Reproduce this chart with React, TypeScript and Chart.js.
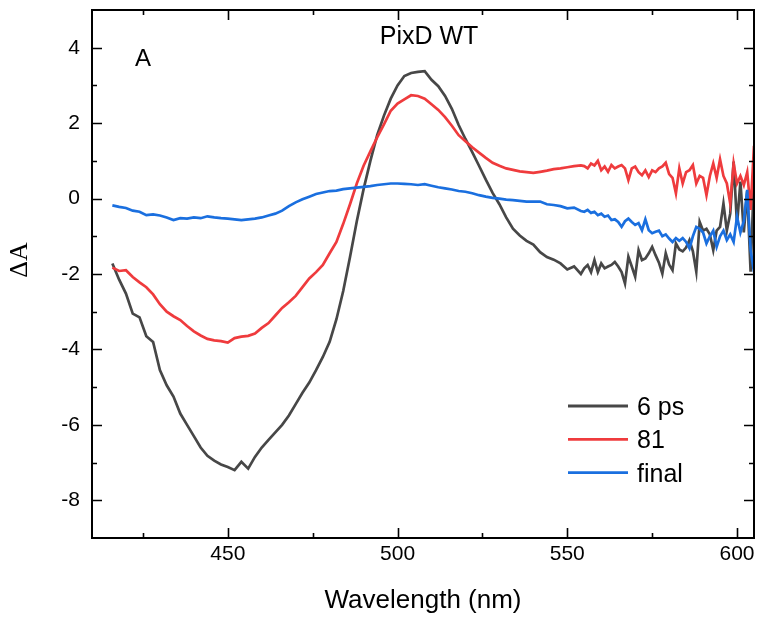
import React, { useEffect, useRef } from "react";
import { Chart, registerables } from "chart.js";

Chart.register(...registerables);

// Wavelength grid (nm)
const wavelengths = [
  416, 418, 420, 422, 424, 426, 428, 430, 432, 434, 436, 438, 440, 442, 444, 446, 448, 450,
  452, 454, 456, 458, 460, 462, 464, 466, 468, 470, 472, 474, 476, 478, 480, 482, 484, 486,
  488, 490, 492, 494, 496, 498, 500, 502, 504, 506, 508, 510, 512, 514, 516, 518, 520, 522,
  524, 526, 528, 530, 532, 534, 536, 538, 540, 542, 544, 546, 548, 550, 552, 554,
  555, 556, 557, 558, 559, 560, 561, 562, 563, 564, 565, 566, 567, 568, 569, 570, 571, 572,
  573, 574, 575, 576, 577, 578, 579, 580, 581, 582, 583, 584, 585, 586, 587, 588, 589, 590,
  591, 592, 593, 594, 595, 596, 597, 598, 599, 600, 601, 602, 603, 604, 605,
];

// 6 ps spectrum
const spec6ps = [
  -1.72, -2.15, -2.52, -3.05, -3.15, -3.65, -3.8, -4.55, -4.95, -5.25, -5.7, -6.0, -6.3, -6.6, -6.82, -6.95, -7.05, -7.12,
  -7.2, -6.98, -7.16, -6.85, -6.6, -6.4, -6.2, -6.0, -5.75, -5.45, -5.15, -4.88, -4.55, -4.2, -3.8, -3.2, -2.45, -1.55,
  -0.6, 0.25, 1.0, 1.68, 2.2, 2.65, 3.0, 3.25, 3.33, 3.36, 3.38, 3.15, 2.98, 2.72, 2.38, 1.95, 1.58, 1.23,
  0.87, 0.5, 0.15, -0.15, -0.5, -0.8, -0.98, -1.12, -1.22, -1.42, -1.55, -1.62, -1.72, -1.88, -1.8, -2.0,
  -1.85, -1.76, -1.95, -1.63, -1.95, -1.72, -1.85, -1.8, -1.76, -1.68, -1.8, -1.95, -2.25, -1.54, -1.8, -2.07, -1.37, -1.63,
  -1.59, -1.45, -1.28, -1.5, -1.7, -1.99, -1.45, -1.75, -1.9, -1.19, -1.35, -1.4, -1.3, -1.1, -1.4, -1.94, -0.62, -0.85,
  -0.8, -0.95, -1.37, -0.85, -0.75, -0.13, -0.85, -0.4, 0.98, -0.7, 0.45, -0.9, 0.2, -1.94, 0.6,
];

// 81 spectrum
const spec81 = [
  -1.83, -1.92, -1.9, -2.08, -2.22, -2.35, -2.54, -2.8, -3.0, -3.12, -3.22, -3.38, -3.52, -3.63, -3.72, -3.76, -3.78, -3.82,
  -3.7, -3.66, -3.64, -3.58, -3.43, -3.3, -3.1, -2.9, -2.75, -2.58, -2.35, -2.12, -1.95, -1.76, -1.45, -1.15, -0.67, -0.15,
  0.4, 0.87, 1.25, 1.62, 1.97, 2.33, 2.52, 2.63, 2.74, 2.72, 2.65, 2.5, 2.35, 2.16, 1.93, 1.68, 1.52, 1.36,
  1.22, 1.08, 0.95, 0.87, 0.8, 0.76, 0.72, 0.7, 0.68, 0.71, 0.74, 0.78, 0.8, 0.83, 0.86, 0.88,
  0.86, 0.8, 0.93, 0.88, 1.0, 0.75, 0.85, 0.71, 0.89, 0.8, 0.85, 0.89, 0.8, 0.49, 0.8, 0.85, 0.7, 0.62,
  0.75, 0.57, 0.75, 0.7, 0.8, 0.85, 0.95, 0.65, 0.55, 0.14, 0.8, 0.4, 0.7, 0.75, 0.89, 0.4, 0.6, 0.55,
  0.09, 0.6, 0.93, 0.55, 1.04, 0.6, 0.4, -0.13, 0.93, 0.4, 0.6, 0.36, 0.7, -0.3, 1.4,
];

// final spectrum
const specFinal = [
  -0.18, -0.22, -0.25, -0.32, -0.35, -0.44, -0.42, -0.45, -0.5, -0.57, -0.52, -0.53, -0.5, -0.52, -0.47, -0.5, -0.52, -0.53,
  -0.55, -0.57, -0.55, -0.53, -0.5, -0.45, -0.4, -0.32, -0.2, -0.1, -0.02, 0.05, 0.12, 0.16, 0.2, 0.21, 0.25, 0.27,
  0.29, 0.31, 0.33, 0.36, 0.38, 0.4, 0.4, 0.39, 0.38, 0.36, 0.38, 0.34, 0.3, 0.27, 0.24, 0.2, 0.18, 0.14,
  0.09, 0.05, 0.02, 0.0, -0.03, -0.04, -0.06, -0.08, -0.08, -0.08, -0.15, -0.17, -0.2, -0.26, -0.24, -0.33,
  -0.35, -0.3, -0.38, -0.35, -0.44, -0.4, -0.48, -0.45, -0.57, -0.55, -0.62, -0.75, -0.6, -0.53, -0.62, -0.7, -0.65, -0.84,
  -0.55, -0.84, -0.92, -0.88, -0.85, -1.0, -0.95, -1.06, -1.15, -1.05, -1.12, -1.05, -1.15, -1.32, -1.0, -0.75, -0.8, -0.9,
  -1.19, -1.0, -0.85, -1.28, -1.0, -0.85, -1.1, -0.95, -1.15, -0.48, -0.9, -0.6, 0.23, -1.37, -1.95,
];

const seriesLabels = ["6 ps", "81", "final"];
const seriesColors = ["#474747", "#ef3b3d", "#1a6fdf"];

const xMajorTicks = [450, 500, 550, 600];
const xMinorTicks = [425, 475, 525, 575];
const yMajorTicks = [-8, -6, -4, -2, 0, 2, 4];
const yMinorTicks = [-7, -5, -3, -1, 1, 3];

const X_MIN = 410;
const X_MAX = 605;
const Y_MIN = -9;
const Y_MAX = 5;

const panelLabel = "A";
const chartTitle = "PixD WT";
const xTitle = "Wavelength (nm)";
const yTitle = "ΔA";

const SANS = "'Liberation Sans', Arial, sans-serif";
const SERIF = "'Liberation Serif', 'Times New Roman', serif";

const decorPlugin = {
  id: "decor",
  afterDatasetsDraw(chart: any) {
    const { ctx, chartArea: a, scales } = chart;
    const x = scales.x;
    const y = scales.y;
    ctx.save();
    // frame
    ctx.strokeStyle = "#000";
    ctx.lineWidth = 2;
    ctx.strokeRect(a.left, a.top, a.right - a.left, a.bottom - a.top);

    // inward ticks
    ctx.lineWidth = 1.6;
    const drawX = (vals: number[], len: number) => {
      vals.forEach((v) => {
        const px = Math.round(x.getPixelForValue(v)) + 0.5;
        ctx.beginPath();
        ctx.moveTo(px, a.bottom);
        ctx.lineTo(px, a.bottom - len);
        ctx.moveTo(px, a.top);
        ctx.lineTo(px, a.top + len);
        ctx.stroke();
      });
    };
    const drawY = (vals: number[], len: number) => {
      vals.forEach((v) => {
        const py = Math.round(y.getPixelForValue(v)) + 0.5;
        ctx.beginPath();
        ctx.moveTo(a.left, py);
        ctx.lineTo(a.left + len, py);
        ctx.moveTo(a.right, py);
        ctx.lineTo(a.right - len, py);
        ctx.stroke();
      });
    };
    drawX(xMajorTicks, 10);
    drawX(xMinorTicks, 5);
    drawY(yMajorTicks, 10);
    drawY(yMinorTicks, 5);

    // texts
    ctx.fillStyle = "#000";
    ctx.textBaseline = "alphabetic";
    ctx.textAlign = "left";
    ctx.font = `24px ${SANS}`;
    ctx.fillText(panelLabel, a.left + 43, a.top + 56);

    ctx.textAlign = "center";
    ctx.font = `25px ${SANS}`;
    ctx.fillText(chartTitle, a.left + 337, a.top + 34);

    // x title
    ctx.font = `26px ${SANS}`;
    ctx.fillText(xTitle, (a.left + a.right) / 2, a.bottom + 70);

    // y title (rotated)
    ctx.save();
    ctx.translate(27, 260);
    ctx.rotate(-Math.PI / 2);
    ctx.font = `26px ${SERIF}`;
    ctx.textAlign = "center";
    ctx.fillText(yTitle, 0, 0);
    ctx.restore();

    // legend
    ctx.textAlign = "left";
    ctx.font = `25px ${SANS}`;
    chart.data.datasets.forEach((ds: any, i: number) => {
      const ly = a.top + 396 + i * 33.3;
      const lx = a.left + 476;
      ctx.strokeStyle = ds.borderColor;
      ctx.lineWidth = 2.8;
      ctx.beginPath();
      ctx.moveTo(lx, ly);
      ctx.lineTo(lx + 60, ly);
      ctx.stroke();
      ctx.fillStyle = "#000";
      ctx.fillText(ds.label, lx + 69, ly + 9);
    });
    ctx.restore();
  },
};

export default function App() {
  const canvasRef = useRef<HTMLCanvasElement | null>(null);

  useEffect(() => {
    document.body.style.margin = "0";
    const canvas = canvasRef.current;
    if (!canvas) return;
    const series = [spec6ps, spec81, specFinal];
    const chart = new Chart(canvas, {
      type: "line",
      data: {
        datasets: series.map((vals, i) => ({
          label: seriesLabels[i],
          data: wavelengths.map((w, j) => ({ x: w, y: vals[j] })),
          borderColor: seriesColors[i],
          backgroundColor: seriesColors[i],
          borderWidth: 2.7,
          pointRadius: 0,
          tension: 0,
          fill: false,
          order: 2 - i,
        })),
      },
      options: {
        responsive: false,
        animation: false,
        devicePixelRatio: 1,
        layout: { padding: { top: 10, right: 4, left: 0, bottom: 0 } },
        plugins: {
          legend: { display: false },
          tooltip: { enabled: false },
          title: { display: false },
        },
        scales: {
          x: {
            type: "linear",
            min: X_MIN,
            max: X_MAX,
            grid: { display: false, drawTicks: false, tickLength: 0 },
            border: { display: false },
            afterBuildTicks: (scale: any) => {
              scale.ticks = xMajorTicks.map((v) => ({ value: v }));
            },
            ticks: {
              autoSkip: false,
              maxRotation: 0,
              padding: 4,
              color: "#000",
              font: { family: SANS, size: 21 },
              callback: (v: any) => String(v),
            },
            afterFit: (scale: any) => {
              scale.height = 81;
              scale.paddingLeft = 0;
              scale.paddingRight = 0;
            },
          },
          y: {
            type: "linear",
            min: Y_MIN,
            max: Y_MAX,
            grid: { display: false, drawTicks: false, tickLength: 0 },
            border: { display: false },
            afterBuildTicks: (scale: any) => {
              scale.ticks = yMajorTicks.map((v) => ({ value: v }));
            },
            ticks: {
              autoSkip: false,
              padding: 12,
              color: "#000",
              font: { family: SANS, size: 21 },
              callback: (v: any) => String(v),
            },
            afterFit: (scale: any) => {
              scale.width = 92;
              scale.paddingTop = 0;
              scale.paddingBottom = 0;
            },
          },
        },
      },
      plugins: [decorPlugin],
    });
    return () => chart.destroy();
  }, []);

  return (
    <div style={{ position: "absolute", left: 0, top: 0, width: 758, height: 619 }}>
      <canvas ref={canvasRef} width={758} height={619} />
    </div>
  );
}
